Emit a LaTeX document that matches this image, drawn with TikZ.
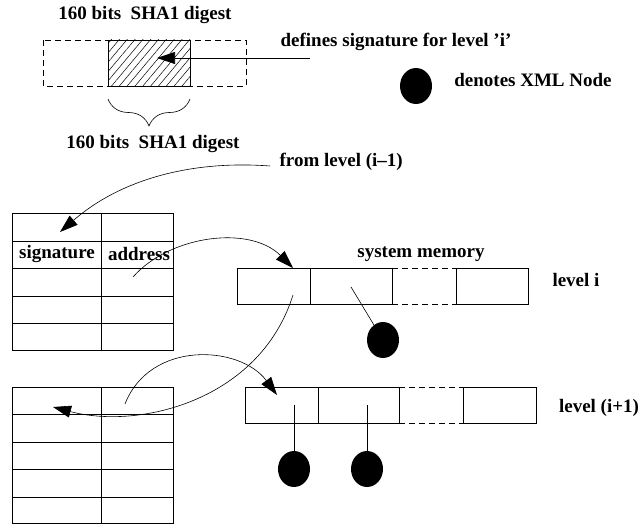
\documentclass[tikz,border=0pt]{standalone}
\usepackage{fontspec}
\setmainfont{Liberation Serif}
\usetikzlibrary{arrows.meta,patterns.meta,shapes.geometric,decorations.pathreplacing}

\begin{document}
\begin{tikzpicture}[x=1pt,y=-1pt,line width=0.6pt,
  every node/.style={font=\fontsize{19}{21}\selectfont\bfseries},
  tip/.style={-{Triangle[length=18pt,width=12pt]}},
  membox/.style={draw,inner sep=0pt,outer sep=0pt,minimum height=36pt},
  xmlnode/.style={ellipse,fill=black,inner sep=0pt,minimum width=32pt,minimum height=36pt}]
\useasboundingbox (0,0) rectangle (640,527);
% signature digest
\node (sha) at (145,15) {160 bits\ \ SHA1 digest};
\draw[dash pattern=on 6pt off 4pt] (43,40) rectangle (246,86);
\draw[pattern={Lines[angle=50,distance=6pt,line width=0.5pt]}] (108,40) rectangle (190,86);
\node[anchor=west] (defs) at (277,42) {defines signature for level 'i'};
\coordinate (sigfrom) at (310,58);
\coordinate (sigtip) at (157,58);
\draw[tip] (sigfrom) -- (sigtip);
\draw[decorate,decoration={brace,mirror,amplitude=27pt}] (108,99) -- (190,99);
\node (sha2) at (153,144) {160 bits\ \ SHA1 digest};
\node[xmlnode] (key) at (416,86) {};
\node (keytxt) at (533,80) {denotes XML Node};
\node[anchor=west] (from) at (276,162) {from level (i--1)};
% hash tables
\draw (12,213) rectangle (173,350) (101,213) -- (101,350);
\foreach \y in {241,268,296,323} \draw (12,\y) -- (173,\y);
\node (sig) at (57,254) {signature};
\node (addr) at (139,254) {address};
\draw (12,387) rectangle (173,523) (101,387) -- (101,523);
\foreach \y in {414,442,469,497} \draw (12,\y) -- (173,\y);
% memory, level i
\node (sysmem) at (421,254) {system memory};
\node[membox,minimum width=73pt] (mi1) at (273.5,286) {};
\node[membox,minimum width=82pt,anchor=west] (mi2) at (mi1.east) {};
\draw[dash pattern=on 6pt off 4pt] (mi2.north east) -- ++(64,0) (mi2.south east) -- ++(64,0);
\node[membox,minimum width=72pt,anchor=west] (mi4) at ([xshift=64pt]mi2.east) {};
\node (lvli) at (576,280) {level i};
% memory, level i+1
\node[membox,minimum width=73pt] (mj1) at (281.5,405) {};
\node[membox,minimum width=81pt,anchor=west] (mj2) at (mj1.east) {};
\draw[dash pattern=on 6pt off 4pt] (mj2.north east) -- ++(64,0) (mj2.south east) -- ++(64,0);
\node[membox,minimum width=73pt,anchor=west] (mj4) at ([xshift=64pt]mj2.east) {};
\node (lvlj) at (599,408) {level (i+1)};
% xml nodes
\node[xmlnode] (xa) at (383,340) {};
\node[xmlnode] (xb) at (294,469) {};
\node[xmlnode] (xc) at (367,469) {};
\coordinate (pa) at (351,287);
\coordinate (pb) at (294,405);
\coordinate (pc) at (367,405);
\draw (pa) -- (xa);
\draw (pb) -- (xb);
\draw (pc) -- (xc);
% pointers
\coordinate (fromend) at (270,166);
\coordinate (sigcell) at (60,232);
\draw[tip] (fromend) .. controls (190,160) and (120,180) .. (sigcell);
\coordinate (addrcell) at (133,277);
\coordinate (mitop) at (293,268);
\draw[tip] (addrcell) .. controls (170,235) and (250,225) .. (mitop);
\coordinate (mistart) at (293,295);
\coordinate (sigcell2) at (53,407);
\draw[tip] (mistart) .. controls (260,400) and (140,430) .. (sigcell2);
\coordinate (addrcell2) at (125,404);
\coordinate (mjtop) at (277,395);
\draw[tip] (addrcell2) .. controls (150,340) and (240,345) .. (mjtop);
\end{tikzpicture}
\end{document}
